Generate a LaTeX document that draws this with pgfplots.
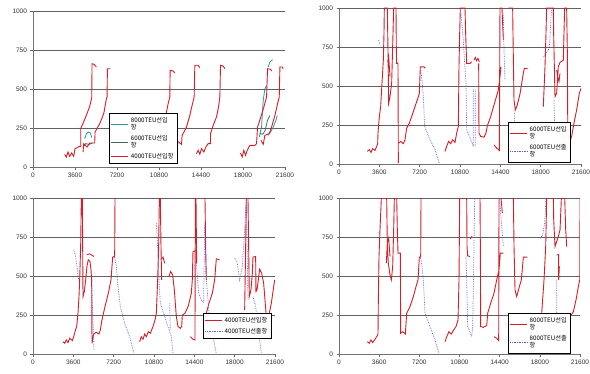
\documentclass[border=0pt]{standalone}
\usepackage{pgfplots}
\pgfplotsset{compat=1.18}
\usepackage{fontspec}
\setmainfont{Liberation Sans}
\newfontfamily\cjk{Noto Sans CJK KR}
\definecolor{cred}{RGB}{212,30,40}
\definecolor{cblue}{RGB}{95,95,215}
\definecolor{cteal}{RGB}{40,150,165}
\definecolor{cgreen}{RGB}{70,105,90}
\pgfplotsset{
  panel/.style={
    scale only axis, anchor=south west,
    xmin=0, xmax=21600, ymin=0, ymax=1000,
    xtick={0,3600,7200,10800,14400,18000,21600},
    ytick={0,250,500,750,1000},
    ymajorgrids, grid style={black!62, line width=0.8pt},
    axis x line*=bottom, axis y line*=left,
    axis line style={black!55, line width=0.6pt},
    tick align=outside, major tick length=2.5pt,
    tick style={black!60, line width=0.5pt},
    tick label style={font=\fontsize{6.5}{7}\selectfont, text=black!80},
    /pgf/number format/assume math mode=true,
    /pgf/number format/1000 sep={},
    scaled ticks=false,
    unbounded coords=jump,
    legend cell align=left,
    legend style={font=\cjk\fontsize{6.2}{7.2}\selectfont, draw=black, line width=0.6pt,
      inner xsep=1.5pt, inner ysep=2pt, row sep=0pt, cells={align=left}, anchor=north west},
  },
  rl/.style={cred, line width=0.9pt},
  bl/.style={cblue, densely dotted, line width=0.7pt},
}
\begin{document}
\begin{tikzpicture}
\useasboundingbox (0,0) rectangle (590pt,373pt);
\fill[white] (0,0) rectangle (590pt,373pt);

% ---------------- panel 1 ----------------
\begin{axis}[panel, at={(33pt,206pt)}, width=252pt, height=156pt,
  legend style={at={(0.302,0.346)}}]
\addplot[cteal, line width=0.8pt] coordinates {
(4433,182) (4576,214) (4748,224) (4919,218) (5034,188) (5034,nan)
(19391,192) (19591,256) (19734,427) (19877,502) (20020,524) (20020,nan)
(20163,641) (20306,673) (20535,688) (20535,nan)
(20163,203) (20363,224) (20592,256) (20821,299) (20935,331)
};
\addlegendentry{8000TEU선입\\항}
\addplot[cgreen, line width=0.8pt] coordinates {
(4290,128) (4519,150) (4805,145) (5091,154) (5091,nan)
(19448,214) (19700,210) (19900,235) (20100,300) (20300,330)
};
\addlegendentry{6000TEU선입\\항}
\addplot[rl] coordinates {
(2717,81) (2860,64) (3003,96) (3146,68) (3318,90) (3489,68) (3604,118) (4004,132) (4090,132) (4090,246) (4519,321) (4862,389) (5034,444) (5062,662) (5234,658) (5434,641) (5434,nan)
(4290,96) (4347,150) (4633,128) (4862,154) (5291,154) (5320,224) (5720,278) (6063,342) (6292,438) (6349,449) (6378,630) (6635,630) (6635,nan)
(10153,128) (10439,160) (10725,150) (10868,171) (11011,214) (11297,299) (11583,406) (11726,449) (11755,620) (12012,615) (12155,603) (12155,nan)
(12155,192) (12298,171) (12727,145) (12784,203) (13156,256) (13442,331) (13671,406) (13814,449) (13871,652) (14157,652) (14300,637) (14300,nan)
(14014,85) (14157,107) (14300,81) (14443,118) (14643,96) (14815,128) (15015,150) (15215,150) (15215,214) (15444,267) (15730,321) (15902,385) (16016,449) (16073,652) (16302,647) (16445,630) (16445,nan)
(17789,90) (17932,64) (18075,107) (18218,75) (18361,107) (18590,139) (19019,139) (19162,150) (19248,256) (19534,321) (19791,385) (20020,449) (20106,630) (20363,626) (20478,615) (20478,nan)
(19534,171) (19734,145) (19877,203) (20249,214) (20449,256) (20735,331) (20964,406) (21107,449) (21164,641) (21364,641) (21450,630)
};
\addlegendentry{4000TEU선입항}
\end{axis}

% ---------------- panel 2 ----------------
\begin{axis}[panel, at={(339pt,209pt)}, width=242pt, height=156pt,
  legend style={at={(0.698,0.269)}}]
\addplot[rl] coordinates {
(2529,81) (2707,92) (2856,74) (3005,98) (3213,87) (3362,113) (3451,130) (3481,198) (3600,304) (3719,368) (3838,517) (3957,666) (4016,836) (4046,1000) (4314,1000) (4373,730) (4433,389) (4552,432) (4700,517) (4820,836) (4879,1000) (5087,1000) (5117,730) (5147,645) (5266,645) (5296,6) (5296,nan)
(4343,655) (4433,687) (4552,560) (4552,nan)
(5355,134) (5504,145) (5742,130) (5891,155) (6039,230) (6277,262) (6486,304) (6783,368) (6991,411) (7170,453) (7259,623) (7586,623) (7705,613) (7705,nan)
(9461,81) (9609,113) (9788,145) (9966,130) (10145,155) (10353,138) (10502,198) (10651,240) (10710,623) (10770,836) (10829,1000) (11246,1000) (11305,836) (11394,645) (11692,645) (11841,655) (11841,nan)
(12049,666) (12168,683) (12287,662) (12406,677) (12525,655) (12525,nan)
(12466,645) (12495,198) (12644,177) (12941,172) (13120,198) (13239,245) (13536,304) (13923,400) (14220,474) (14369,560) (14458,623) (14458,nan)
(13834,123) (14072,102) (14310,87) (14369,1000) (14548,1000) (14667,794) (14667,nan)
(15113,1000) (15500,1000) (15530,836) (15619,411) (15738,347) (15887,372) (16154,449) (16452,581) (16541,613) (16838,611) (16838,nan)
(18237,368) (18386,623) (18475,836) (18534,1000) (19129,1000) (19159,836) (19278,432) (19427,453) (19576,623) (19724,651) (20022,666) (20081,836) (20141,1000) (20319,1000) (20379,730) (20438,6) (20438,nan)
(19427,602) (19516,560) (19635,528) (19724,581) (19724,nan)
(20557,134) (20765,177) (20973,262) (21211,347) (21449,453) (21598,485)
};
\addlegendentry{6000TEU선입\\항}
\addplot[bl] coordinates {
(3540,794) (3659,762) (3659,nan)
(7289,613) (7408,538) (7527,432) (7646,240) (8122,155) (8568,92) (8955,6) (8955,nan)
(10889,964) (11097,794) (11216,645) (11335,517) (11394,219) (11692,166) (11990,113) (11990,474) (12168,474) (12168,113) (12168,nan)
(14667,964) (14727,730) (14816,538) (14816,nan)
(15619,347) (15798,155) (16006,6) (16006,nan)
(18267,687) (18475,709) (18684,730) (18803,772) (18921,943) (19010,1000) (19010,nan)
(19188,411) (19337,6)
};
\addlegendentry{6000TEU선출\\항}
\end{axis}

% ---------------- panel 3 ----------------
\begin{axis}[panel, at={(33pt,19pt)}, width=242pt, height=156pt,
  legend style={at={(0.702,0.263)}}]
\addplot[rl] coordinates {
(2678,79) (2826,69) (2975,90) (3124,73) (3273,101) (3511,86) (3630,111) (3749,143) (3897,176) (4016,261) (4106,368) (4165,475) (4254,689) (4314,1000) (4403,1000) (4433,689) (4463,368) (4582,400) (4700,475) (4820,565) (4939,604) (5087,593) (5177,540) (5236,475) (5266,69) (5415,128) (5653,139) (5891,128) (6010,154) (6158,218) (6426,304) (6724,390) (6962,475) (7111,621) (7289,625) (7319,1000) (7319,nan)
(4820,636) (5058,642) (5355,629) (5445,625) (5445,nan)
(9520,79) (9669,111) (9818,94) (9966,128) (10115,111) (10294,143) (10472,133) (10710,176) (10889,218) (11008,261) (11127,475) (11216,689) (11276,1000) (11365,1000) (11424,689) (11484,475) (11484,nan)
(11394,604) (11603,621) (11752,582) (11752,nan)
(12138,497) (12287,529) (12466,507) (12614,411) (12793,240) (12941,176) (13150,165) (13269,176) (13328,250) (13566,261) (13864,308) (14131,390) (14220,475) (14280,657) (14637,662) (14637,nan)
(14042,111) (14280,94) (14458,90) (14488,1000) (14548,1000) (14607,582) (14607,nan)
(15232,1000) (15351,1000) (15410,689) (15470,475) (15470,nan)
(15470,261) (15708,325) (16006,390) (16214,475) (16363,610) (16660,604) (16660,nan)
(18891,283) (18981,689) (19040,1000) (19189,1000) (19248,689) (19308,368) (19457,411) (19576,518) (19635,621) (19873,625) (19900,400) (19992,411) (20111,475) (20230,544) (20409,518) (20587,454) (20825,240) (21000,230) (21271,325) (21569,475)
};
\addlegendentry{4000TEU선입항}
\addplot[bl] coordinates {
(3630,668) (3778,636) (3927,561) (4076,475) (4076,nan)
(4463,368) (4611,432) (4611,nan)
(5236,475) (5355,218) (5445,26) (5445,nan)
(7289,621) (7438,561) (7587,432) (7795,304) (8181,197) (8628,111) (9014,4) (9014,nan)
(11008,839) (11127,689) (11246,475) (11365,325) (11662,261) (12049,176) (12346,111) (12495,4) (12495,nan)
(12198,325) (12257,154) (12257,nan)
(14578,582) (14786,390) (15023,347) (15232,330) (15321,839) (15470,475) (15768,218) (16065,111) (16363,4) (16363,nan)
(17999,614) (18207,593) (18445,475) (18683,561) (18891,796) (19040,1000) (19100,732) (19189,347) (19189,nan)
(19635,368) (19873,304) (20082,176) (20379,4)
};
\addlegendentry{4000TEU선출항}
\end{axis}

% ---------------- panel 4 ----------------
\begin{axis}[panel, at={(339pt,19pt)}, width=241pt, height=156pt,
  legend style={at={(0.701,0.263)}}]
\addplot[rl] coordinates {
(2540,79) (2719,69) (2868,90) (3018,73) (3227,94) (3376,111) (3496,128) (3526,347) (3586,625) (3675,796) (3795,1000) (4273,1000) (4333,689) (4422,582) (4572,507) (4691,475) (4811,561) (4900,796) (4960,1000) (5169,1000) (5229,796) (5289,647) (5498,647) (5528,133) (5707,143) (5946,128) (6066,261) (6364,304) (6663,368) (6902,432) (7082,475) (7201,621) (7321,621) (7351,1000) (7351,nan)
(4243,582) (4333,711) (4452,743) (4572,625) (4572,nan)
(9502,79) (9651,111) (9860,143) (10070,128) (10279,154) (10488,176) (10667,218) (10757,475) (10817,1000) (11444,1000) (11474,689) (11534,629) (11743,625) (11743,nan)
(11743,737) (11922,754) (11922,nan)
(12340,1000) (12639,1000) (12669,689) (12699,176) (12938,171) (13237,182) (13326,261) (13595,325) (13894,390) (14133,475) (14342,540) (14462,647) (14731,647) (14731,nan)
(13894,111) (14133,101) (14312,86) (14342,1000) (14521,1000) (14641,904) (14641,nan)
(15179,1000) (15627,1000) (15687,689) (15777,411) (15926,368) (16165,432) (16344,475) (16524,621) (16882,621) (16882,nan)
(17958,154) (18167,261) (18376,475) (18525,689) (18615,1000) (19213,1000) (19243,861) (19362,689) (19512,721) (19661,754) (19811,796) (19930,1000) (20229,1000) (20319,796) (20408,689) (20408,nan)
(19512,634) (19691,638) (19691,475) (19751,561) (19751,nan)
(20707,240) (21006,272) (21245,347) (21454,432) (21574,475) (21604,1000)
};
\addlegendentry{8000TEU선입\\항}
\addplot[bl] coordinates {
(3556,775) (3675,796) (3675,nan)
(7321,614) (7440,561) (7560,475) (7709,261) (8157,176) (8605,90) (8964,4) (8964,nan)
(11384,625) (11444,475) (11534,176) (11892,111) (11982,176) (12101,689) (12161,1000) (12161,nan)
(14372,1000) (14491,904) (14731,689) (14731,nan)
(15777,261) (15986,133) (16225,4) (16225,nan)
(18018,743) (18257,764) (18436,839) (18555,1000) (18555,nan)
(19512,475) (19542,4)
};
\addlegendentry{8000TEU선출\\항}
\end{axis}
\end{tikzpicture}
\end{document}
